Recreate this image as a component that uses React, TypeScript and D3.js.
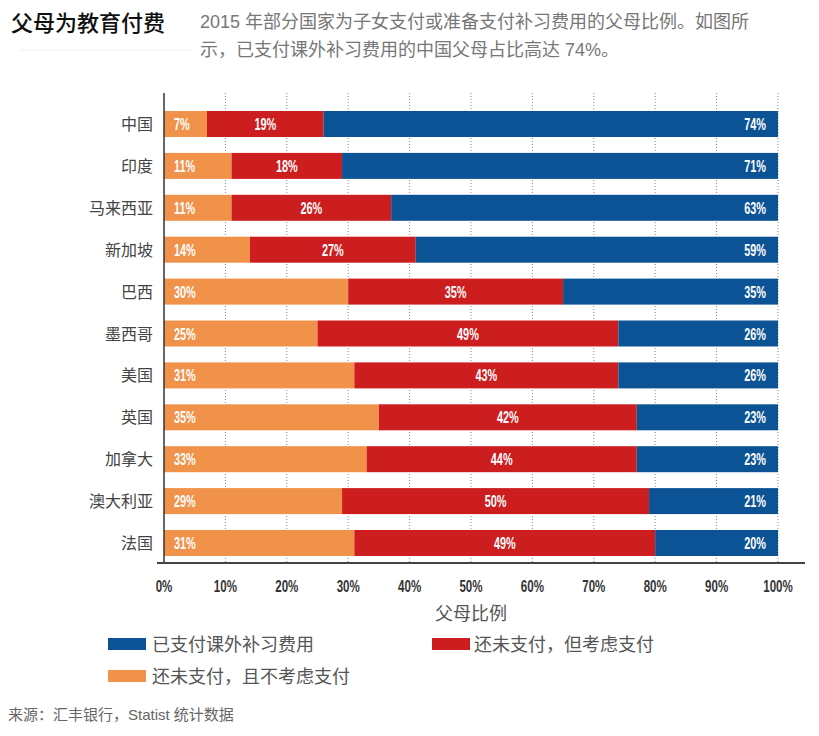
import React from "react";
import * as d3 from "d3";

const categories = ["中国", "印度", "马来西亚", "新加坡", "巴西", "墨西哥", "美国", "英国", "加拿大", "澳大利亚", "法国"];
const notConsidering = [7, 11, 11, 14, 30, 25, 31, 35, 33, 29, 31];
const considering = [19, 18, 26, 27, 35, 49, 43, 42, 44, 50, 49];
const paid = [74, 71, 63, 59, 35, 26, 26, 23, 23, 21, 20];
const ticks = [0, 10, 20, 30, 40, 50, 60, 70, 80, 90, 100];

const seriesNames = ["已支付课外补习费用", "还未支付，但考虑支付", "还未支付，且不考虑支付"];
const COLORS = { paid: "#0b5394", cons: "#cc1d1f", not: "#f0924a" };

const W = 819, H = 736;
const cnFont = "'Noto Sans CJK SC', 'Noto Sans', sans-serif";
const subFont = "'Liberation Sans', 'Noto Sans CJK SC', sans-serif";
const numFont = "'Liberation Sans', 'Roboto', sans-serif";

function Num({ x, y, anchor, size, fill, children }: { x: number; y: number; anchor: string; size: number; fill: string; children: React.ReactNode }) {
  return (
    <g transform={`translate(${x},${y}) scale(0.68,1)`}>
      <text x={0} y={0} textAnchor={anchor} fontFamily={numFont} fontWeight="bold" fontSize={size} fill={fill}>{children}</text>
    </g>
  );
}

export default function App() {
  const x = d3.scaleLinear().domain([0, 100]).range([164, 778]);
  const y = d3.scalePoint<string>().domain(categories).range([124, 543]);
  const bh = 26;
  const top = 93, bottom = 563;

  return (
    <svg width={W} height={H} style={{ position: "absolute", left: 0, top: 0, background: "#fff" }}>
      <text x={11} y={31} fontFamily={cnFont} fontSize={22} fontWeight={500} fill="#111">父母为教育付费</text>
      <line x1={20} x2={190} y1={50} y2={50} stroke="#f0f0f0" strokeWidth={1} />
      <text x={200} y={28} fontFamily={subFont} fontSize={18} fill="#777">2015 年部分国家为子女支付或准备支付补习费用的父母比例。如图所</text>
      <text x={200} y={56} fontFamily={subFont} fontSize={18} fill="#777">示，已支付课外补习费用的中国父母占比高达 74%。</text>

      {ticks.slice(1).map((t) => (
        <line key={t} x1={x(t)} x2={x(t)} y1={top} y2={bottom} stroke="#888" strokeWidth={1} strokeDasharray="1,2" />
      ))}

      {categories.map((c, i) => {
        const yc = y(c)!;
        const a = notConsidering[i], b = considering[i], p = paid[i];
        return (
          <g key={c}>
            <rect x={x(0)} y={yc - bh / 2} width={x(a) - x(0)} height={bh} fill={COLORS.not} />
            <rect x={x(a)} y={yc - bh / 2} width={x(a + b) - x(a)} height={bh} fill={COLORS.cons} />
            <rect x={x(a + b)} y={yc - bh / 2} width={x(100) - x(a + b)} height={bh} fill={COLORS.paid} />
            <Num x={x(0) + 10} y={yc + 6} anchor="start" size={16} fill="#fff">{a}%</Num>
            <Num x={(x(a) + x(a + b)) / 2} y={yc + 6} anchor="middle" size={16} fill="#fff">{b}%</Num>
            <Num x={x(100) - 12} y={yc + 6} anchor="end" size={16} fill="#fff">{p}%</Num>
            <text x={153} y={yc + 6} textAnchor="end" fontFamily={cnFont} fontSize={16} fill="#444">{c}</text>
          </g>
        );
      })}

      <line x1={x(0)} x2={x(0)} y1={top} y2={bottom} stroke="#333" strokeWidth={1.5} />
      <line x1={157} x2={805} y1={bottom} y2={bottom} stroke="#444" strokeWidth={2} />
      {ticks.map((t) => (
        <Num key={t} x={x(t)} y={592} anchor="middle" size={17} fill="#333">{t}%</Num>
      ))}
      <text x={x(50)} y={620} textAnchor="middle" fontFamily={cnFont} fontSize={18} fill="#555">父母比例</text>

      <rect x={108} y={638} width={38} height={12} fill={COLORS.paid} />
      <text x={152} y={651} fontFamily={cnFont} fontSize={18} fill="#555">{seriesNames[0]}</text>
      <rect x={432} y={638} width={38} height={12} fill={COLORS.cons} />
      <text x={474} y={651} fontFamily={cnFont} fontSize={18} fill="#555">{seriesNames[1]}</text>
      <rect x={108} y={670} width={38} height={12} fill={COLORS.not} />
      <text x={152} y={683} fontFamily={cnFont} fontSize={18} fill="#555">{seriesNames[2]}</text>

      <text x={8} y={720} fontFamily={subFont} fontSize={15} fill="#666">来源：汇丰银行，Statist 统计数据</text>
    </svg>
  );
}
